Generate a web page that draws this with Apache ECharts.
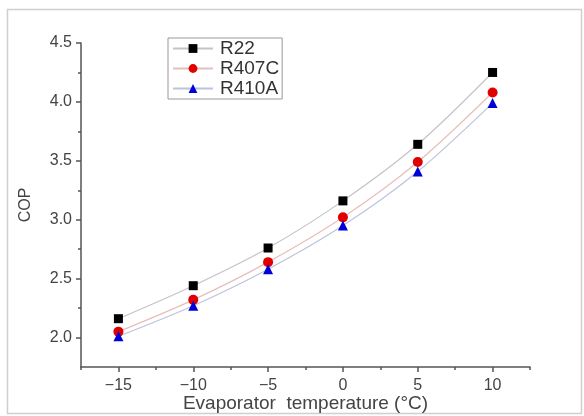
<!DOCTYPE html>
<html>
<head>
<meta charset="utf-8">
<script src="https://cdn.jsdelivr.net/npm/echarts@6/dist/echarts.min.js"></script>
<style>
    html, body {margin: 0; padding: 0; background: #fff;}
    #chart {width: 584px; height: 416px;}
</style>
</head>
<body>
<div id="chart"></div>
<script>
    // evaporator temperature (°C)
    const temps = [-15, -10, -5, 0, 5, 10]
    const r22 = [2.16, 2.44, 2.76, 3.16, 3.64, 4.25]
    const r407c = [2.05, 2.32, 2.64, 3.02, 3.49, 4.08]
    const r410a = [2.01, 2.27, 2.58, 2.95, 3.41, 3.99]

    const xTicks = [-15, -10, -5, 0, 5, 10]
    const xMinor = [-17.5, -12.5, -7.5, -2.5, 2.5, 7.5, 12.5]
    const yTicks = [2.0, 2.5, 3.0, 3.5, 4.0, 4.5]
    const yMinor = [2.25, 2.75, 3.25, 3.75, 4.25]

    const font = 'Liberation Sans, Arial, sans-serif'
    const axisColor = '#555'

    const list = [
        {name: 'R22', data: r22, symbol: 'rect', size: 9, color: '#000', lineColor: '#c4c4c4'},
        {name: 'R407C', data: r407c, symbol: 'circle', size: 10, color: '#e00000', lineColor: '#e6bfb8'},
        {name: 'R410A', data: r410a, symbol: 'triangle', size: 10, color: '#0000d8', lineColor: '#bcc4dc'}
    ]

    let seriesList = []
    list.forEach(item => {
        seriesList.push({
            name: item.name,
            type: 'line',
            smooth: 0.3,
            symbol: item.symbol,
            symbolSize: item.size,
            itemStyle: {color: item.color},
            lineStyle: {color: item.lineColor, width: 1.2},
            data: temps.map((t, i) => [t, item.data[i]]),
            z: 3
        })
    })

    const chart = echarts.init(document.getElementById('chart'))
    chart.setOption({
        animation: false,
        graphic: [{
            type: 'rect',
            shape: {x: 7.5, y: 9.5, width: 574, height: 404},
            style: {fill: null, stroke: '#cfcfcf', lineWidth: 1.5},
            silent: true
        }],
        legend: {
            left: 168,
            top: 38,
            orient: 'vertical',
            itemWidth: 40,
            itemHeight: 11,
            itemGap: 1,
            padding: [1, 3, 1, 4],
            borderColor: '#999',
            borderWidth: 1,
            textStyle: {fontFamily: font, fontSize: 19, color: '#333', padding: [0, 0, 0, 2]},
            data: list.map(item => ({name: item.name}))
        },
        grid: {left: 81, right: 54, top: 43, bottom: 49, outerBoundsMode: 'none'},
        xAxis: [{
            type: 'value',
            min: -17.5,
            max: 12.5,
            splitLine: {show: false},
            axisLine: {onZero: false, lineStyle: {color: axisColor, width: 1.5}},
            axisTick: {customValues: xTicks, length: 5, lineStyle: {color: axisColor, width: 1.5}},
            axisLabel: {customValues: xTicks, fontFamily: font, fontSize: 16, color: '#444', margin: 11,
                formatter: v => String(v).replace('-', '\u2212')},
            name: 'Evaporator  temperature (°C)',
            nameLocation: 'middle',
            nameGap: 27,
            nameMoveOverlap: false,
            nameTextStyle: {fontFamily: font, fontSize: 19, color: '#444'}
        }, {
            type: 'value',
            min: -17.5,
            max: 12.5,
            position: 'bottom',
            splitLine: {show: false},
            axisLine: {show: false, onZero: false},
            axisTick: {customValues: xMinor, length: 3, lineStyle: {color: axisColor, width: 1.5}},
            axisLabel: {show: false}
        }],
        yAxis: [{
            type: 'value',
            min: 1.75,
            max: 4.5,
            splitLine: {show: false},
            axisLine: {show: true, onZero: false, lineStyle: {color: axisColor, width: 1.5}},
            axisTick: {show: true, customValues: yTicks, length: 5, lineStyle: {color: axisColor, width: 1.5}},
            axisLabel: {customValues: yTicks, fontFamily: font, fontSize: 16, color: '#444', margin: 9,
                formatter: v => v.toFixed(1)},
            name: 'COP',
            nameLocation: 'middle',
            nameGap: 47,
            nameMoveOverlap: false,
            nameTextStyle: {fontFamily: font, fontSize: 16, color: '#444'}
        }, {
            type: 'value',
            min: 1.75,
            max: 4.5,
            position: 'left',
            splitLine: {show: false},
            axisLine: {show: false, onZero: false},
            axisTick: {show: true, customValues: yMinor, length: 3, lineStyle: {color: axisColor, width: 1.5}},
            axisLabel: {show: false}
        }],
        series: seriesList
    })
</script>
</body>
</html>
